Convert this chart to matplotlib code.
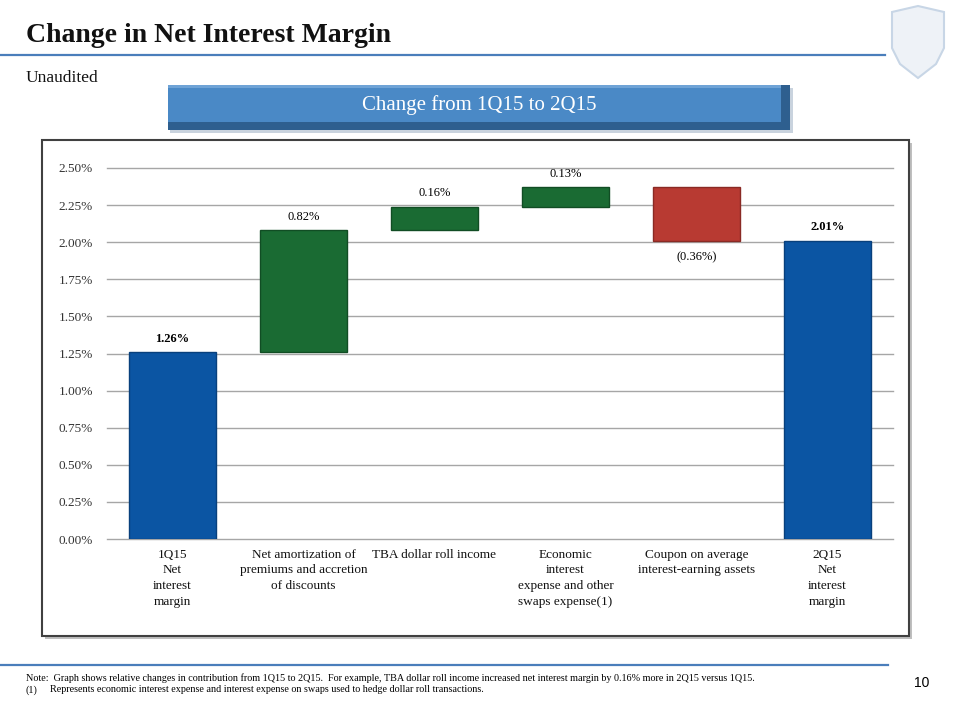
import matplotlib
matplotlib.use("Agg")
import matplotlib.pyplot as plt
from matplotlib.patches import Rectangle, Polygon
import numpy as np

# data
categories = ["1Q15\nNet\ninterest\nmargin",
              "Net amortization of\npremiums and accretion\nof discounts",
              "TBA dollar roll income",
              "Economic\ninterest\nexpense and other\nswaps expense(1)",
              "Coupon on average\ninterest-earning assets",
              "2Q15\nNet\ninterest\nmargin"]
start_value = 1.26
changes = [0.82, 0.16, 0.13, -0.36]
end_value = 2.01
yticks = [0.0, 0.25, 0.5, 0.75, 1.0, 1.25, 1.5, 1.75, 2.0, 2.25, 2.5]

plt.rcParams["font.family"] = ["Liberation Serif", "DejaVu Serif"]

W, H = 960, 720
fig = plt.figure(figsize=(9.6, 7.2), dpi=100)


def fx(x):
    return x / W


def fy(y):
    return 1 - y / H


def rect_px(x0, y0, x1, y1, **kw):
    r = Rectangle((fx(x0), fy(y1)), fx(x1) - fx(x0), fy(y0) - fy(y1),
                  transform=fig.transFigure, zorder=-5, **kw)
    fig.add_artist(r)
    return r


# title and header rule
fig.text(fx(26), fy(36), "Change in Net Interest Margin", fontsize=20,
         fontweight="bold", va="center", ha="left", color="#111111")
fig.add_artist(plt.Line2D([0, fx(885)], [fy(55), fy(55)], color="#4A7EBB",
                          lw=1.6, transform=fig.transFigure))
fig.text(fx(26), fy(78), "Unaudited", fontsize=12.5, va="center", ha="left",
         color="#111111")

# shield logo (faint)
shield = np.array([[892, 12], [918, 6], [944, 12], [944, 48], [936, 64],
                   [918, 78], [900, 64], [892, 48]])
fig.add_artist(Polygon([(fx(x), fy(y)) for x, y in shield], closed=True,
                       transform=fig.transFigure, facecolor="#EEF2F7",
                       edgecolor="#C8D6E6", lw=1.5))

# banner
rect_px(170, 88, 793, 133, facecolor="#C9D3DE", edgecolor="none")
rect_px(168, 85, 790, 130, facecolor="#2E5F8F", edgecolor="none")
rect_px(168, 85, 781, 122, facecolor="#4A89C6", edgecolor="none")
rect_px(168, 85, 781, 88, facecolor="#6FA3D6", edgecolor="none")
fig.text(fx(479), fy(105), "Change from 1Q15 to 2Q15", fontsize=15,
         color="white", ha="center", va="center")

# chart frame with shadow
rect_px(45, 143, 912, 639, facecolor="#BFBFBF", edgecolor="none")
rect_px(42, 140, 909, 636, facecolor="white", edgecolor="#404040", lw=1.5)

# axes
ax = fig.add_axes([fx(107), fy(539), fx(893) - fx(107), fy(168) - fy(539)])
ax.set_facecolor("none")
ax.set_zorder(5)

x = np.arange(len(categories))
levels = np.cumsum([start_value] + changes)
bottoms = [0] + [min(levels[i], levels[i + 1]) for i in range(len(changes))] + [0]
heights = [start_value] + [abs(c) for c in changes] + [end_value]
colors = ["#0B55A3"] + ["#1A6B33" if c > 0 else "#B83A32" for c in changes] + ["#0B55A3"]
edges = ["#08407C"] + ["#114D24" if c > 0 else "#8A2A24" for c in changes] + ["#08407C"]

ax.bar(x, heights, bottom=bottoms, width=0.667, color=colors,
       edgecolor=edges, linewidth=1.0, zorder=3)

# value labels
ax.text(x[0], start_value + 0.05, f"{start_value:.2f}%", ha="center",
        va="bottom", fontsize=9, fontweight="bold")
for i, c in enumerate(changes):
    xi = x[i + 1]
    if c > 0:
        ax.text(xi, levels[i + 1] + 0.05, f"{c:.2f}%", ha="center",
                va="bottom", fontsize=9)
    else:
        ax.text(xi, levels[i + 1] - 0.07, f"({abs(c):.2f}%)", ha="center",
                va="top", fontsize=9)
ax.text(x[-1], end_value + 0.05, f"{end_value:.2f}%", ha="center",
        va="bottom", fontsize=9, fontweight="bold")

ax.set_xlim(-0.5, len(categories) - 0.5)
ax.set_ylim(0, 2.5)
ax.set_yticks(yticks)
ax.set_yticklabels([f"{t:.2f}%" for t in yticks], fontsize=9.5, color="#333333")
ax.set_xticks(x)
ax.set_xticklabels(categories, fontsize=9.5, color="#111111", linespacing=1.4)
ax.tick_params(axis="both", length=0)
ax.tick_params(axis="y", pad=10)
ax.tick_params(axis="x", pad=7)
ax.grid(axis="y", color="#A6A6A6", lw=1.0, zorder=0)
for gl in ax.get_ygridlines():
    gl.set_clip_on(False)
for s in ax.spines.values():
    s.set_visible(False)

# footer
fig.add_artist(plt.Line2D([0, fx(888)], [fy(665), fy(665)], color="#4A7EBB",
                          lw=1.6, transform=fig.transFigure))
fig.text(fx(26), fy(678), "Note:  Graph shows relative changes in contribution from 1Q15 to 2Q15.  "
         "For example, TBA dollar roll income increased net interest margin by 0.16% more in 2Q15 versus 1Q15.",
         fontsize=7.3, va="center", ha="left")
fig.text(fx(26), fy(690), "(1)", fontsize=7.3, va="center", ha="left")
fig.text(fx(50), fy(690), "Represents economic interest expense and interest expense on swaps used to hedge dollar roll transactions.",
         fontsize=7.3, va="center", ha="left")
fig.text(fx(922), fy(683), "10", fontsize=10, va="center", ha="center",
         family=["Liberation Sans", "DejaVu Sans"])

fig.savefig("out.png", dpi=100)
